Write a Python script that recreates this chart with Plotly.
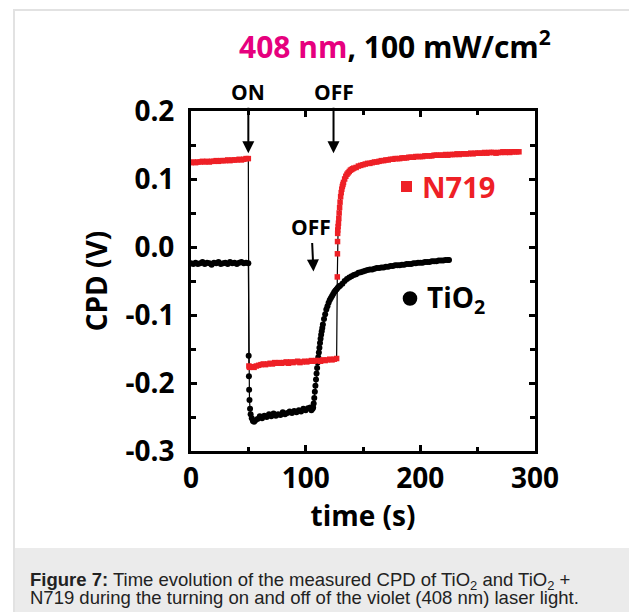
import plotly.graph_objects as go

# ---------------- data ----------------
# N719 (red), time in s and CPD in V
n719_t = (list(range(0, 51, 2))
          + [50.5] + list(range(51, 128, 2))
          + [127.6, 127.7, 127.8, 127.9, 128.0, 128.3, 128.6, 128.9, 129.2, 129.6, 130,
             130.5, 131, 131.5, 132, 132.5, 133, 134, 135, 136, 137, 138, 139, 140, 141]
          + list(range(142, 287, 2)))
n719_v = [0.124, 0.125, 0.124, 0.125, 0.125, 0.126, 0.125, 0.126, 0.125, 0.126, 0.126,
          0.127, 0.126, 0.127, 0.127, 0.127, 0.128, 0.127, 0.128, 0.128, 0.128, 0.129,
          0.128, 0.129, 0.130, 0.130,
          -0.175,
          -0.177, -0.176, -0.177, -0.175, -0.174, -0.173, -0.172, -0.173, -0.172, -0.171,
          -0.172, -0.170, -0.171, -0.170, -0.171, -0.170, -0.169, -0.171, -0.169, -0.170,
          -0.169, -0.168, -0.170, -0.169, -0.168, -0.169, -0.168, -0.167, -0.168, -0.167,
          -0.167, -0.168, -0.166, -0.167, -0.166, -0.165, -0.166, -0.165, -0.164,
          -0.044, -0.010, 0.008, 0.020, 0.025, 0.030, 0.035, 0.042, 0.050, 0.058, 0.066,
          0.074, 0.080, 0.085, 0.089, 0.092, 0.095, 0.100, 0.104, 0.107, 0.109, 0.111,
          0.113, 0.114, 0.115,
          0.116, 0.117, 0.119, 0.120, 0.121, 0.122, 0.123, 0.123, 0.124, 0.125, 0.125,
          0.126, 0.127, 0.127, 0.128, 0.128, 0.129, 0.129, 0.130, 0.130, 0.130, 0.131,
          0.131, 0.131, 0.132, 0.132, 0.132, 0.133, 0.133, 0.133, 0.133, 0.134, 0.134,
          0.134, 0.134, 0.135, 0.135, 0.135, 0.135, 0.135, 0.136, 0.135, 0.136, 0.136,
          0.136, 0.137, 0.136, 0.137, 0.137, 0.137, 0.137, 0.138, 0.137, 0.138, 0.138,
          0.138, 0.138, 0.139, 0.138, 0.139, 0.139, 0.139, 0.138, 0.139, 0.139, 0.140,
          0.139, 0.140, 0.139, 0.140, 0.140, 0.140, 0.140]

# TiO2 (black)
tio2_t = (list(range(0, 51, 2))
          + [50.3, 50.5, 50.7, 51, 51.5, 52, 53, 54, 55, 56]
          + list(range(58, 105, 2))
          + [105, 106, 106.5, 107, 107.5, 108, 108.5, 109, 109.5, 110, 110.5, 111, 111.5,
             112, 112.5, 113, 113.5, 114, 114.5, 115, 116, 117, 118, 119, 120, 121, 122,
             123, 124, 125, 126, 127, 128, 129, 130]
          + list(range(132, 225, 2)) + [225])
tio2_v = [-0.024, -0.025, -0.023, -0.025, -0.024, -0.022, -0.025, -0.023, -0.024, -0.026,
          -0.023, -0.024, -0.022, -0.025, -0.024, -0.023, -0.025, -0.022, -0.024, -0.023,
          -0.025, -0.023, -0.022, -0.024, -0.023, -0.024,
          -0.160, -0.190, -0.210, -0.225, -0.238, -0.246, -0.252, -0.256, -0.257, -0.255,
          -0.253, -0.249, -0.252, -0.248, -0.250, -0.246, -0.249, -0.245, -0.248, -0.246,
          -0.247, -0.243, -0.246, -0.244, -0.242, -0.244, -0.241, -0.243, -0.240, -0.242,
          -0.238, -0.240, -0.237, -0.236,
          -0.240, -0.238, -0.236, -0.230, -0.222, -0.213, -0.204, -0.195, -0.186, -0.178,
          -0.170, -0.162, -0.155, -0.148, -0.141, -0.135, -0.129, -0.124, -0.119, -0.114,
          -0.106, -0.099, -0.092, -0.087, -0.082, -0.078, -0.075, -0.072, -0.069, -0.066,
          -0.064, -0.062, -0.060, -0.058, -0.057,
          -0.054, -0.050, -0.047, -0.045, -0.043, -0.041, -0.040, -0.038, -0.037, -0.036,
          -0.035, -0.034, -0.033, -0.033, -0.032, -0.031, -0.031, -0.030, -0.030, -0.029,
          -0.029, -0.028, -0.028, -0.027, -0.027, -0.027, -0.026, -0.026, -0.025, -0.025,
          -0.025, -0.024, -0.024, -0.023, -0.023, -0.023, -0.022, -0.022, -0.022, -0.021,
          -0.021, -0.021, -0.020, -0.020, -0.020, -0.019, -0.019, -0.019]

assert len(n719_t) == len(n719_v), (len(n719_t), len(n719_v))
assert len(tio2_t) == len(tio2_v), (len(tio2_t), len(tio2_v))

x_tickvals = [0, 100, 200, 300]
x_ticktext = ["0", "100", "200", "300"]
y_tickvals = [-0.3, -0.2, -0.1, 0.0, 0.1, 0.2]
y_ticktext = ["-0.3", "-0.2", "-0.1", "0.0", "0.1", "0.2"]

# ---------------- layout geometry ----------------
W, H = 629, 612
L, R, T, B = 191, 94, 111, 161
PW, PH = W - L - R, H - T - B


def px(xp):
    return (xp - L) / PW


def py(yp):
    return (H - B - yp) / PH


RED = "#EE2026"
MAG = "#E6007E"
FONT = "Open Sans"

fig = go.Figure()
fig.add_trace(go.Scatter(
    x=tio2_t, y=tio2_v, mode="lines+markers", name="TiO2",
    line=dict(color="black", width=1.2),
    marker=dict(color="black", size=6, symbol="circle"),
    showlegend=False))
fig.add_trace(go.Scatter(
    x=n719_t, y=n719_v, mode="lines+markers", name="N719",
    line=dict(color="black", width=1.2),
    marker=dict(color=RED, size=5.5, symbol="square"),
    showlegend=False))

axis_common = dict(
    showline=True, linecolor="black", linewidth=3, mirror="ticks",
    ticks="inside", ticklen=6, tickwidth=2.5, tickcolor="black",
    showgrid=False, zeroline=False,
    tickfont=dict(family=FONT, size=28, color="black", weight="bold"),
)

fig.update_xaxes(range=[0, 300], tickvals=x_tickvals, ticktext=x_ticktext,
                 minor=dict(dtick=50, ticks="inside", ticklen=4, tickwidth=2.5,
                            tickcolor="black"),
                 title=dict(text="time (s)", standoff=5,
                            font=dict(family=FONT, size=28, color="black", weight="bold")),
                 **axis_common)
fig.update_yaxes(range=[-0.3, 0.2], tickvals=y_tickvals, ticktext=y_ticktext,
                 ticklabelstandoff=8,
                 minor=dict(dtick=0.05, ticks="inside", ticklen=5, tickwidth=2.5,
                            tickcolor="black"),
                 title=dict(text="CPD (V)", standoff=10,
                            font=dict(family=FONT, size=28, color="black", weight="bold")),
                 **axis_common)

shapes = [
    # outer figure frame
    dict(type="rect", xref="paper", yref="paper",
         x0=px(14), x1=px(660), y0=py(10), y1=py(660),
         line=dict(color="#E2E2E2", width=2), fillcolor="rgba(0,0,0,0)", layer="below"),
    # caption background
    dict(type="rect", xref="paper", yref="paper",
         x0=px(15), x1=px(660), y0=py(548), y1=py(660),
         line=dict(width=0), fillcolor="#EBEBEB", layer="below"),
    # legend-like symbols
    dict(type="rect", xref="paper", yref="paper", xsizemode="pixel", ysizemode="pixel",
         xanchor=px(406.5), yanchor=py(186.5), x0=-5.5, x1=5.5, y0=-5.5, y1=5.5,
         fillcolor=RED, line=dict(width=0)),
    dict(type="circle", xref="paper", yref="paper", xsizemode="pixel", ysizemode="pixel",
         xanchor=px(410), yanchor=py(298.5), x0=-7.3, x1=7.3, y0=-7.3, y1=7.3,
         fillcolor="black", line=dict(width=0)),
]

ann_font = dict(family=FONT, size=21, color="black", weight="bold")
cap_font = dict(family="Liberation Sans", size=18.5, color="#222222")
annotations = [
    dict(xref="paper", yref="paper", x=px(394.5), y=py(45), xanchor="center", yanchor="middle",
         text=f"<span style='color:{MAG}'>408 nm</span>, 100 mW/cm<sup>2</sup>",
         showarrow=False, font=dict(family=FONT, size=30, color="black", weight="bold")),
    dict(xref="x", yref="y", x=50, y=0.138, text="ON", showarrow=True, ax=0, ay=-61,
         arrowhead=2, arrowsize=1.2, arrowwidth=2, arrowcolor="black", standoff=0,
         font=ann_font),
    dict(xref="x", yref="y", x=124.3, y=0.138, text="OFF", showarrow=True, ax=0, ay=-61,
         arrowhead=2, arrowsize=1.2, arrowwidth=2, arrowcolor="black", standoff=0,
         font=ann_font),
    dict(xref="x", yref="y", x=106.8, y=-0.036, text="OFF", showarrow=True, ax=-2, ay=-44,
         arrowhead=2, arrowsize=1.2, arrowwidth=2, arrowcolor="black", standoff=0,
         font=ann_font),
    dict(xref="paper", yref="paper", x=px(420), y=py(186.5), xanchor="left", yanchor="middle",
         text="N719", showarrow=False,
         font=dict(family=FONT, size=29, color=RED, weight="bold")),
    dict(xref="paper", yref="paper", x=px(425), y=py(299), xanchor="left", yanchor="middle",
         text="TiO<sub>2</sub>", showarrow=False,
         font=dict(family=FONT, size=28, color="black", weight="bold")),
    dict(xref="paper", yref="paper", x=px(28), y=py(595), xanchor="left", yanchor="bottom",
         text="<b>Figure 7:</b> Time evolution of the measured CPD of TiO<sub>2</sub> and TiO<sub>2</sub> +",
         showarrow=False, font=cap_font),
    dict(xref="paper", yref="paper", x=px(28), y=py(610), xanchor="left", yanchor="bottom",
         text="N719 during the turning on and off of the violet (408 nm) laser light.",
         showarrow=False, font=cap_font),
]

fig.update_layout(
    width=W, height=H, autosize=False,
    margin=dict(l=L, r=R, t=T, b=B, pad=0),
    paper_bgcolor="white", plot_bgcolor="white",
    shapes=shapes, annotations=annotations,
)

fig.write_html("out.html", config={"displayModeBar": False},
               post_script="document.body.style.margin='0';")
